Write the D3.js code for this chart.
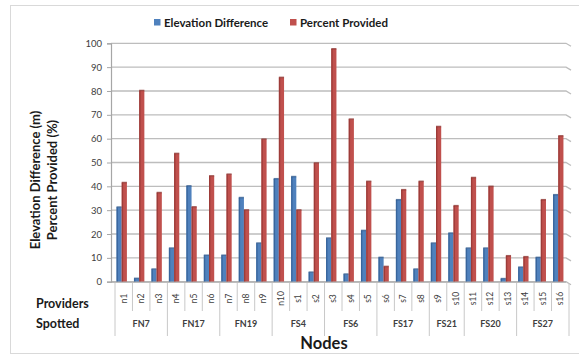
<!DOCTYPE html>
<html>
<head>
<meta charset="utf-8">
<script src="https://cdn.jsdelivr.net/npm/d3@7"></script>
<style>
  html, body { margin: 0; padding: 0; background: #ffffff; }
  svg { display: block; }
  text { font-family: Lato, "Open Sans", sans-serif; }
</style>
</head>
<body>
<svg id="chart" width="579" height="358"></svg>
<script>
const nodes = ["n1","n2","n3","n4","n5","n6","n7","n8","n9","n10",
  "s1","s2","s3","s4","s5","s6","s7","s8","s9","s10","s11","s12","s13","s14","s15","s16"];
const elevationDifference = [31.2,1.3,5.2,14,40.1,11,11,35.2,16.1,43.1,44,3.9,18.2,3.1,21.4,10.1,34.3,5.2,16.1,20.3,14,14,1.2,6,10.1,36.4];
const percentProvided = [41.5,80.1,37.3,53.7,31.3,44.3,45,30,59.7,85.6,30,49.7,97.6,68.1,42,6.3,38.5,42,65,31.8,43.6,39.9,10.8,10.4,34.3,61.1];
const groupNames = ["FN7","FN17","FN19","FS4","FS6","FS17","FS21","FS20","FS27"];
const groupSizes = [3,3,3,3,3,3,2,3,3];
const yTicks = [0,10,20,30,40,50,60,70,80,90,100];
const seriesNames = ["Elevation Difference","Percent Provided"];
const colors = ["#4f81bd","#c0504d"];
const darkColors = ["#2f5a8f","#8e3330"];

const svg = d3.select("#chart");

// outer frame
svg.append("rect").attr("x",10.5).attr("y",5.5).attr("width",580).attr("height",348)
  .attr("fill","#fff").attr("stroke","#d9d9d9").attr("stroke-width",1);

const x = d3.scaleBand().domain(nodes).range([115, 569]).padding(0);
const y = d3.scaleLinear().domain([0,100]).range([281.7, 43.3]);
const plotLeft = 111, plotRight = 566;

// gridlines
const grid = svg.append("g");
yTicks.forEach(t => {
  grid.append("path")
    .attr("d", `M${plotLeft},${y(t)} L${plotRight},${y(t)} L${plotRight+5},${y(t)+3}`)
    .attr("fill","none").attr("stroke","#bdbdbd").attr("stroke-width",1.3);
});

// y axis
const yAxis = svg.append("g").attr("transform",`translate(${plotLeft},0)`)
  .call(d3.axisLeft(y).tickValues(yTicks).tickSize(4).tickPadding(5).tickFormat(d3.format("d")));
yAxis.select(".domain").attr("stroke","#a6a6a6").attr("stroke-width",1.2);
yAxis.selectAll(".tick line").attr("stroke","#a6a6a6");
yAxis.selectAll(".tick text").attr("font-size",9.5).attr("fill","#404040")
  .style("font-family","Lato, sans-serif");

// bars
const series = [elevationDifference, percentProvided];
const offsets = [1.5, 6.7];
const bw = 5.2;
series.forEach((vals, si) => {
  const g = svg.append("g");
  g.selectAll("rect.face").data(nodes).enter().append("rect")
    .attr("x", d => x(d) + offsets[si])
    .attr("y", (d,i) => y(vals[i]))
    .attr("width", bw)
    .attr("height", (d,i) => y(0) - y(vals[i]))
    .attr("fill", colors[si]);
  g.selectAll("rect.side").data(nodes).enter().append("rect")
    .attr("x", d => x(d) + offsets[si] + (si === 0 ? 0 : 0))
    .attr("y", (d,i) => y(vals[i]))
    .attr("width", 1.4)
    .attr("height", (d,i) => y(0) - y(vals[i]))
    .attr("fill", darkColors[si]).attr("opacity",0.7);
  g.selectAll("rect.top").data(nodes).enter().append("rect")
    .attr("x", d => x(d) + offsets[si])
    .attr("y", (d,i) => y(vals[i]) - 1)
    .attr("width", bw)
    .attr("height", 1.5)
    .attr("fill", darkColors[si]).attr("opacity",0.8);
});

// baseline
svg.append("line").attr("x1",plotLeft).attr("x2",plotRight).attr("y1",y(0)+0.5).attr("y2",y(0)+0.5)
  .attr("stroke","#a6a6a6").attr("stroke-width",1);

// category separators
const sep = svg.append("g").attr("stroke","#c8c8c8").attr("stroke-width",1);
const boundaries = nodes.map(n => x(n)).concat([x(nodes[nodes.length-1]) + x.bandwidth()]);
const groupBoundaryIdx = new Set();
let acc = 0; groupBoundaryIdx.add(0);
groupSizes.forEach(s => { acc += s; groupBoundaryIdx.add(acc); });
boundaries.forEach((bx, i) => {
  sep.append("line").attr("x1",bx).attr("x2",bx).attr("y1",283)
    .attr("y2", groupBoundaryIdx.has(i) ? 336 : 311);
});

// node labels
svg.append("g").selectAll("text").data(nodes).enter().append("text")
  .attr("transform", d => `translate(${x(d)+x.bandwidth()/2+3},${298.5}) rotate(-90)`)
  .attr("text-anchor","middle")
  .attr("font-size",8.5).attr("fill","#404040")
  .text(d => d);

// group labels
acc = 0;
const gl = svg.append("g");
groupNames.forEach((name, gi) => {
  const start = boundaries[acc];
  acc += groupSizes[gi];
  const end = boundaries[acc];
  gl.append("text").attr("x",(start+end)/2).attr("y",327)
    .attr("text-anchor","middle").attr("font-size",9).attr("font-weight","bold")
    .attr("fill","#404040").text(name);
});

// row headers
svg.append("text").attr("x",36).attr("y",307.5).attr("font-size",12.5).attr("font-weight","bold")
  .attr("fill","#1a1a1a").text("Providers");
svg.append("text").attr("x",36).attr("y",328).attr("font-size",12.5).attr("font-weight","bold")
  .attr("fill","#1a1a1a").text("Spotted");

// x title
svg.append("text").attr("x",324).attr("y",348.5).attr("text-anchor","middle")
  .attr("font-size",16.5).attr("font-weight","bold").attr("fill","#1a1a1a").text("Nodes");

// y title
const yt = svg.append("text").attr("transform","translate(40,180) rotate(-90)")
  .attr("text-anchor","middle").attr("font-size",13).attr("font-weight","bold").attr("fill","#1a1a1a");
yt.append("tspan").attr("x",0).attr("dy",0).text("Elevation Difference (m)");
yt.append("tspan").attr("x",0).attr("dy",17).text("Percent Provided (%)");

// legend
const legendX = [154, 290];
seriesNames.forEach((name, i) => {
  svg.append("rect").attr("x",legendX[i]).attr("y",19).attr("width",6.5).attr("height",6.5).attr("fill",colors[i]);
  svg.append("text").attr("x",legendX[i]+10).attr("y",26.5).attr("font-size",11.5).attr("font-weight","bold")
    .attr("fill","#1a1a1a").text(name);
});
</script>
</body>
</html>
